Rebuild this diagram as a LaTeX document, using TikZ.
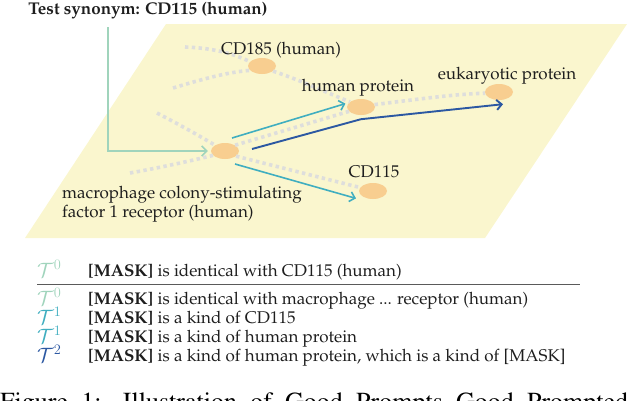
\documentclass[tikz,border=0pt]{standalone}
\usepackage[T1]{fontenc}
\renewcommand{\rmdefault}{ppl}
\usetikzlibrary{arrows.meta,shapes.geometric}
\definecolor{plane}{RGB}{250,246,206}
\definecolor{nodefill}{RGB}{248,206,144}
\definecolor{dotgray}{RGB}{222,222,220}
\definecolor{tzero}{RGB}{160,212,188}
\definecolor{tone}{RGB}{64,174,192}
\definecolor{ttwo}{RGB}{44,88,162}
\definecolor{txtc}{RGB}{30,30,30}
\definecolor{rulec}{RGB}{90,90,90}
\begin{document}
\begin{tikzpicture}[x=1pt,y=-1pt,
  txt/.style={font=\fontsize{17}{19}\selectfont, inner sep=0pt, text=txtc},
  ent/.style={shape=ellipse, minimum width=28pt, minimum height=16pt, inner sep=0pt, fill=nodefill},
  rel/.style={draw=dotgray, line width=3.6pt, dash pattern=on 3.4pt off 3.4pt},
  tipped/.style={-{Straight Barb[length=5pt,width=10pt]}},
  synline/.style={tipped, draw=tzero, line width=1.6pt},
  oneline/.style={tipped, draw=tone, line width=1.6pt},
  twoline/.style={tipped, draw=ttwo, line width=1.9pt, line join=round},
  tsym/.style={anchor=base west, inner sep=0pt, font=\fontsize{20}{22}\selectfont},
  row/.style={anchor=base west, inner sep=0pt, text=txtc, font=\fontsize{17}{19}\selectfont}
]
\useasboundingbox (0,0) rectangle (628,400);
\fill[plane] (166,24) -- (627,24) -- (485,238) -- (25,238) -- cycle;

% entities
\node[ent] (n185) at (262,66) {};
\node[ent] (hp) at (361,107) {};
\node[ent] (euk) at (499,92) {};
\node[ent] (c) at (225,151) {};
\node[ent] (cd115) at (373,191) {};

% free ends
\coordinate (d1) at (185,47);
\coordinate (d2) at (173,88);
\coordinate (d5) at (157,113);
\coordinate (d6) at (130,173);
\coordinate (g0) at (108,27);
\coordinate (s1) at (232,138);
\coordinate (s2) at (235,164);
\coordinate (s3) at (252,149);

% dotted relations
\draw[rel] (d1) .. controls (212,48) and (232,53) .. (n185.160);
\draw[rel] (d2) .. controls (203,79) and (228,72) .. (n185.200);
\draw[rel] (n185.-25) .. controls (300,80) and (325,92) .. (hp.155);
\draw[rel] (hp.10) .. controls (420,99) and (455,94) .. (euk.185);
\draw[rel] (d5) .. controls (180,125) and (198,135) .. (c.150);
\draw[rel] (d6) .. controls (163,167) and (190,161) .. (c.200);
\draw[rel] (c.30) -- (hp.200);
\draw[rel] (c.-25) -- (cd115.165);

% paths
\draw[synline] (g0) |- ([xshift=-3pt]c.west);
\draw[oneline] (s1) -- ([xshift=-2pt,yshift=1pt]hp.170);
\draw[oneline] (s2) -- ([xshift=-5pt,yshift=-3pt]cd115.200);
\draw[twoline] (s3) -- ([yshift=-4pt]hp.south) -- ([xshift=4pt,yshift=-4pt]euk.south);

% labels
\node[txt, font=\bfseries\fontsize{17}{19}\selectfont, anchor=base] (title) at (148,14) {Test synonym: CD115 (human)};
\node[txt, anchor=base] (l185) at (281,54) {CD185 (human)};
\node[txt, anchor=base] (lhp) at (358,91) {human protein};
\node[txt, anchor=base] (leuk) at (507,79) {eukaryotic protein};
\node[txt, anchor=base] (l115) at (374,177) {CD115};
\node[txt, anchor=base west, align=left] (lc) at (62,217) {macrophage colony-stimulating\\factor 1 receptor (human)};

% template table
\node[tsym, text=tzero] (t1) at (37,277) {$\mathcal{T}^{0}$};
\node[row] (r1) at (88,276) {\textbf{[MASK]} is identical with CD115 (human)};
\coordinate (ra) at (37,284.5);
\coordinate (rb) at (580,284.5);
\draw[rulec, line width=1.2pt] (ra) -- (rb);
\node[tsym, text=tzero] (t2) at (37,305) {$\mathcal{T}^{0}$};
\node[row] (r2) at (88,304) {\textbf{[MASK]} is identical with macrophage ... receptor (human)};
\node[tsym, text=tone] (t3) at (37,324) {$\mathcal{T}^{1}$};
\node[row] (r3) at (88,323) {\textbf{[MASK]} is a kind of CD115};
\node[tsym, text=tone] (t4) at (37,343) {$\mathcal{T}^{1}$};
\node[row] (r4) at (88,342) {\textbf{[MASK]} is a kind of human protein};
\node[tsym, text=ttwo] (t5) at (37,362) {$\mathcal{T}^{2}$};
\node[row] (r5) at (88,361) {\textbf{[MASK]} is a kind of human protein, which is a kind of [MASK]};

% clipped caption
\begin{scope}
\clip (0,0) rectangle (628,400);
\node[anchor=base west, inner sep=0pt, text=black, font=\fontfamily{ptm}\fontsize{26}{30}\selectfont] (cap) at (0,410) {\makebox[628pt][s]{Figure 1: Illustration of Good Prompts Good Prompted}};
\end{scope}
\end{tikzpicture}
\end{document}
